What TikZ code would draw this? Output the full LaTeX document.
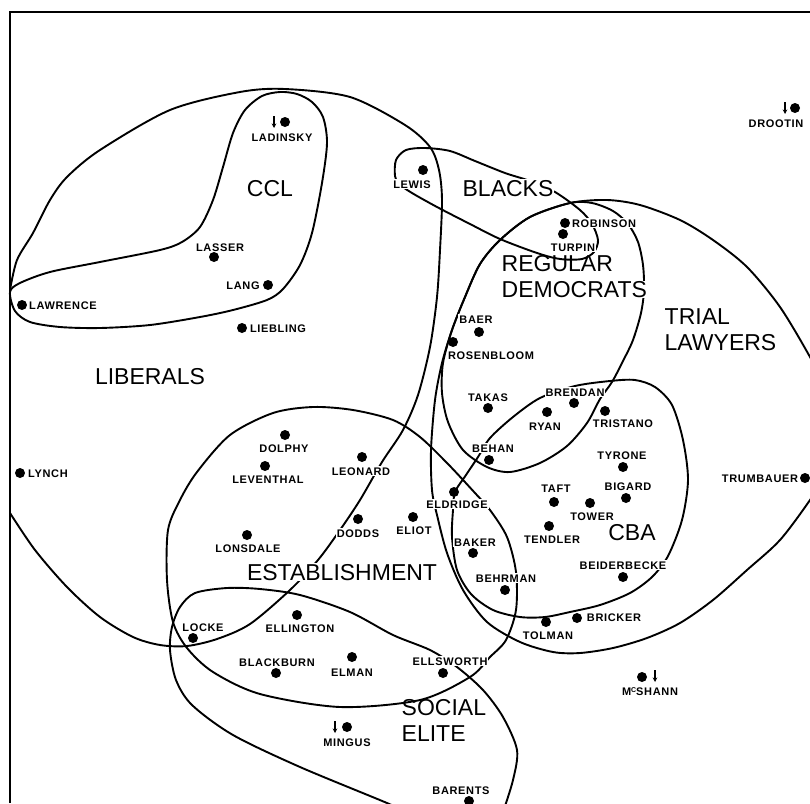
\documentclass[tikz,border=0pt]{standalone}
\usepackage{fontspec}
\setmainfont{Liberation Sans}
\newfontfamily\namefont{Liberation Sans}[LetterSpace=6]
\usetikzlibrary{arrows.meta}
\begin{document}
\begin{tikzpicture}[x=1pt,y=-1pt,
  curve/.style={line width=1.9pt,line join=round,line cap=round},
  frameline/.style={line width=1.5pt},
  persondot/.style={circle,fill=black,inner sep=0pt,minimum size=10pt},
  namelabel/.style={fill=white,inner sep=1pt,text height=8pt,text depth=0pt,font=\namefont\bfseries\fontsize{11}{12}\selectfont},
  grouplabel/.style={fill=white,inner sep=0.5pt,text height=16.5pt,text depth=0pt,align=left,font=\fontsize{23}{26}\selectfont},
  downmark/.style={line width=1.3pt,-{Stealth[length=4.5pt,width=4.5pt]}}]
\useasboundingbox (0,0) rectangle (810,803);
\draw[frameline] (10,803) -- (10,12) -- (810,12);
\begin{scope}
\clip (0,0) rectangle (810,803);
% LIBERALS
\draw[curve] plot[smooth] coordinates {(10,290) (17,260) (33,233) (50,200) (67,177) (100,150) (170,110) (240,92) (285,89) (350,97) (405,125) (430,147) (439,170) (442,200) (440,250) (437,297) (430,347) (418,395) (403,430) (382,462) (360,500) (340,530) (318,560) (290,590) (250,624) (217,639) (187,646) (160,645) (133,637) (100,617) (67,587) (35,550) (10,513)};
% CCL
\draw[curve] plot[smooth cycle] coordinates {(10,292) (20,283) (50,272) (100,262) (160,250) (182,242) (200,227) (213,200) (223,167) (233,133) (245,110) (262,96) (280,92) (297,94) (312,102) (323,117) (327,143) (322,183) (312,233) (300,265) (283,289) (267,300) (233,310) (200,317) (150,325) (100,328) (60,327) (30,322) (15,311)};
% BLACKS
\draw[curve] plot[smooth cycle] coordinates {(395,176) (396,160) (406,150) (425,148) (450,151) (475,161) (505,173) (530,181) (555,192) (580,210) (592,224) (598,240) (594,252) (582,259) (560,259) (537,253) (500,239) (470,224) (437,207) (412,193) (399,184)};
% TRIAL LAWYERS
\draw[curve] plot[smooth cycle] coordinates {(810,357) (780,307) (747,267) (713,240) (680,220) (640,205) (607,200) (570,203) (530,217) (500,240) (480,264) (465,297) (452,330) (442,363) (435,400) (431,450) (432,490) (437,515) (447,553) (463,590) (487,622) (520,642) (553,652) (580,653) (613,648) (647,638) (680,623) (713,600) (747,570) (780,540) (810,500) (830,468) (838,430) (828,393)};
% REGULAR DEMOCRATS
\draw[curve] plot[smooth cycle] coordinates {(500,240) (530,217) (570,203) (592,203) (613,211) (628,224) (638,242) (643,265) (644,290) (641,313) (633,340) (623,361) (612,382) (600,399) (587,423) (567,446) (540,463) (510,472) (487,467) (463,450) (448,422) (442,393) (443,363) (452,330) (465,297) (480,264)};
% CBA
\draw[curve] plot[smooth cycle] coordinates {(455,492) (466,475) (478,457) (490,438) (513,417) (540,398) (575,386) (610,381) (635,380) (655,387) (672,405) (683,440) (688,480) (682,520) (668,556) (652,577) (630,593) (600,605) (570,612) (545,617) (520,617) (493,610) (471,594) (457,570) (452,537) (453,510)};
% ESTABLISHMENT
\draw[curve] plot[smooth cycle] coordinates {(313,407) (353,410) (393,420) (420,437) (448,464) (475,493) (490,510) (507,537) (516,572) (516,610) (506,640) (490,657) (470,677) (420,700) (340,707) (260,694) (213,672) (187,648) (173,622) (167,580) (168,530) (180,500) (197,472) (230,435) (273,413)};
% SOCIAL ELITE
\draw[curve] plot[smooth] coordinates {(503,812) (513,780) (517,750) (503,717) (483,690) (457,667) (430,650) (393,635) (350,612) (300,595) (260,589) (227,588) (195,593) (180,607) (172,627) (170,650) (176,680) (192,705) (233,735) (300,767) (387,803) (405,812)};
\end{scope}
% group labels
\node[grouplabel] (gLib) at (150,376) {LIBERALS};
\node[grouplabel] (gCCL) at (270,188) {CCL};
\node[grouplabel] (gBlk) at (508,188) {BLACKS};
\node[grouplabel,anchor=west] (gReg) at (501,289.5) {REGULAR\\DEMOCRATS};
\node[grouplabel,anchor=west] (gTri) at (664,342) {TRIAL\\LAWYERS};
\node[grouplabel] (gEst) at (342,572) {ESTABLISHMENT};
\node[grouplabel] (gCBA) at (632,532) {CBA};
\node[grouplabel,anchor=west] (gSoc) at (401,733) {SOCIAL\\ELITE};
% people
\def\people{ladinsky/285/122/282/137/LADINSKY, lasser/214/257/220/247/LASSER, lang/268/285/243/285/LANG, lawrence/22/305/63/305/LAWRENCE, liebling/242/328/278/328/LIEBLING, lewis/423/170/412/184/LEWIS, drootin/795/108/776/123/DROOTIN, robinson/565/223/604/223/ROBINSON, turpin/563/234/573/247/TURPIN, baer/479/332/476/319/BAER, rosenbloom/453/342/491/355/ROSENBLOOM, takas/488/408/488/397/TAKAS, brendan/574/403/575/392/BRENDAN, ryan/547/412/545/426/RYAN, tristano/605/411/623/423/TRISTANO, behan/489/460/493/448/BEHAN, tyrone/623/467/622/455/TYRONE, eldridge/454/492/457/504/ELDRIDGE, taft/554/502/556/488/TAFT, bigard/626/498/628/486/BIGARD, tower/590/503/592/516/TOWER, tendler/549/526/552/539/TENDLER, baker/473/553/475/542/BAKER, beiderbecke/623/577/623/565/BEIDERBECKE, behrman/505/590/506/578/BEHRMAN, tolman/546/622/548/635/TOLMAN, bricker/577/618/614/617/BRICKER, trumbauer/805/478/760/478/TRUMBAUER, mcshann/642/677/650/691/{M\raisebox{2.5pt}{\fontsize{7}{7}\selectfont C}SHANN}, ellsworth/443/673/450/661/ELLSWORTH, barents/469/801/461/790/BARENTS, lynch/20/473/48/473/LYNCH, dolphy/285/435/284/448/DOLPHY, leventhal/265/466/268/479/LEVENTHAL, leonard/362/457/361/471/LEONARD, dodds/358/519/358/533/DODDS, eliot/413/517/414/530/ELIOT, lonsdale/247/535/248/548/LONSDALE, locke/193/638/203/627/LOCKE, ellington/297/615/300/628/ELLINGTON, blackburn/276/673/277/662/BLACKBURN, elman/352/657/352/672/ELMAN, mingus/347/727/347/742/MINGUS}
\foreach \n/\dx/\dy/\lx/\ly/\t in \people {\node[namelabel] (\n L) at (\lx,\ly) {\t};}
\foreach \n/\dx/\dy/\lx/\ly/\t in \people {\node[persondot] (\n) at (\dx,\dy) {};}
% arrow marks
\draw[downmark] ([xshift=-11pt]ladinsky.center) ++(0,-6) -- ++(0,12);
\draw[downmark] ([xshift=-10pt]drootin.center) ++(0,-6) -- ++(0,12);
\draw[downmark] ([xshift=-12pt]mingus.center) ++(0,-6) -- ++(0,12);
\draw[downmark] ([xshift=13pt]mcshann.center) ++(0,-7) -- ++(0,12);
\end{tikzpicture}
\end{document}
